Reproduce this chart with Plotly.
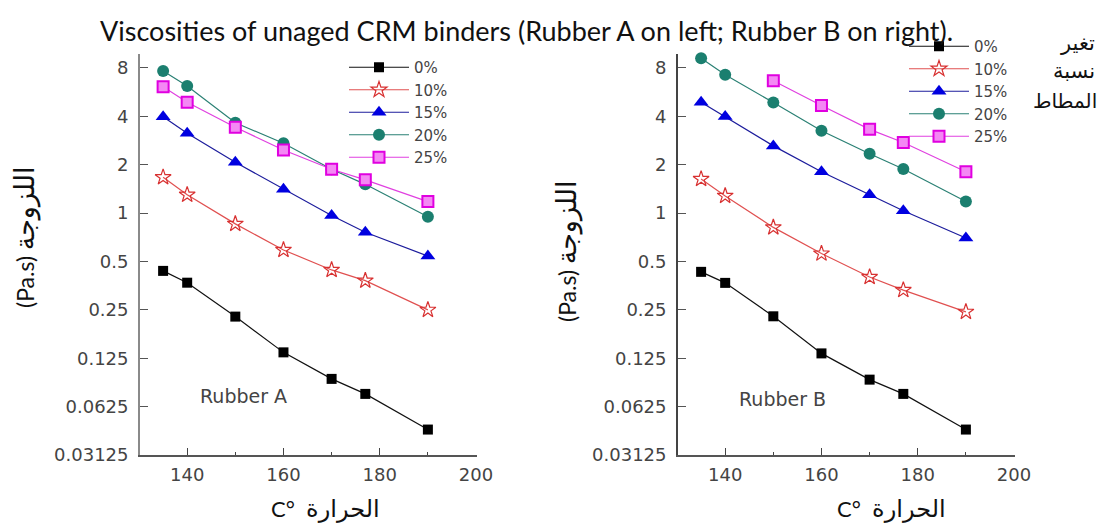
import plotly.graph_objects as go

# ---------------- data ----------------
temps = [135, 140, 150, 160, 170, 177, 190]
labels = ["0%", "10%", "15%", "20%", "25%"]

rubberA_0 = [0.437, 0.369, 0.227, 0.136, 0.093, 0.075, 0.045]
rubberA_10 = [1.67, 1.30, 0.857, 0.59, 0.443, 0.38, 0.25]
rubberA_15 = [3.98, 3.14, 2.07, 1.41, 0.966, 0.76, 0.54]
rubberA_20 = [7.66, 6.18, 3.65, 2.72, 1.875, 1.51, 0.95]
rubberA_25 = [6.12, 4.89, 3.42, 2.47, 1.875, 1.61, 1.18]

rubberB_0 = [0.431, 0.368, 0.228, 0.134, 0.092, 0.075, 0.045]
rubberB_10 = [1.63, 1.28, 0.815, 0.56, 0.40, 0.332, 0.243]
rubberB_15 = [4.90, 3.99, 2.62, 1.81, 1.30, 1.035, 0.70]
rubberB_20 = [9.21, 7.26, 4.88, 3.25, 2.34, 1.88, 1.18]
rubberB_25 = [None, None, 6.66, 4.67, 3.32, 2.75, 1.81]

y_tickvals = [0.03125, 0.0625, 0.125, 0.25, 0.5, 1, 2, 4, 8]
y_ticktext = ["0.03125", "0.0625", "0.125", "0.25", "0.5", "1", "2", "4", "8"]

# ---------------- styles ----------------
styles = [
    dict(line=dict(color="#111111", width=1.2),
         marker=dict(symbol="square", size=10, color="#000000")),
    dict(line=dict(color="#e05050", width=1.2),
         marker=dict(symbol="star-open", size=12, color="#d83030", line=dict(width=1.2))),
    dict(line=dict(color="#1c1c9c", width=1.2),
         marker=dict(symbol="triangle-up", size=13, color="#0000e0")),
    dict(line=dict(color="#2a8074", width=1.2),
         marker=dict(symbol="circle", size=12, color="#1b7f6f")),
    dict(line=dict(color="#e040e0", width=1.2),
         marker=dict(symbol="square", size=11, color="#f488f4",
                     line=dict(color="#e000e0", width=2))),
]

fig = go.Figure()

seriesA = [rubberA_0, rubberA_10, rubberA_15, rubberA_20, rubberA_25]
seriesB = [rubberB_0, rubberB_10, rubberB_15, rubberB_20, rubberB_25]

for lab, vals, st in zip(labels, seriesA, styles):
    fig.add_trace(go.Scatter(x=temps, y=vals, mode="lines+markers", name=lab,
                             xaxis="x", yaxis="y", legend="legend",
                             cliponaxis=False, **st))
for lab, vals, st in zip(labels, seriesB, styles):
    fig.add_trace(go.Scatter(x=temps, y=vals, mode="lines+markers", name=lab,
                             xaxis="x2", yaxis="y2", legend="legend2",
                             cliponaxis=False, connectgaps=False, **st))

W, H = 1117, 525
def px_x(p):
    return p / W
def px_y(p):
    return 1 - p / H

tick_font = dict(family="DejaVu Sans, Arial, sans-serif", size=18, color="#444444")

xcommon = dict(range=[130.2, 200.2], tick0=140, dtick=20, ticks="inside", ticklen=7,
               tickwidth=1.2, tickcolor="#444444", showline=True, linecolor="#555555",
               linewidth=1.5, showgrid=False, zeroline=False, tickfont=tick_font,
               minor=dict(dtick=10, tick0=140, ticks="inside", ticklen=3,
                          tickcolor="#444444", tickwidth=1.2, showgrid=False),
               ticklabelstandoff=3, automargin=False)
ycommon = dict(type="log", range=[-1.5051, 0.99], tickvals=y_tickvals,
               ticktext=y_ticktext, ticks="inside", ticklen=8, tickwidth=1.2,
               tickcolor="#555555", showline=True, linewidth=1.8,
               showgrid=False, zeroline=False, tickfont=tick_font,
               ticklabelstandoff=6, automargin=False)

ybot, ytop = px_y(455), px_y(54)

leg_font = dict(family="DejaVu Sans, Arial, sans-serif", size=15, color="#444444")

fig.update_layout(
    width=W, height=H,
    margin=dict(l=0, r=0, t=0, b=0),
    paper_bgcolor="white", plot_bgcolor="white",
    xaxis=dict(domain=[px_x(140), px_x(477)], anchor="y", **xcommon),
    yaxis=dict(domain=[ybot, ytop], anchor="x", linecolor="#8a8a8a", **ycommon),
    xaxis2=dict(domain=[px_x(678), px_x(1015)], anchor="y2", **xcommon),
    yaxis2=dict(domain=[ybot, ytop], anchor="x2", linecolor="#444444", **ycommon),
    legend=dict(x=px_x(344), y=px_y(51), xanchor="left", yanchor="top",
                bgcolor="rgba(0,0,0,0)", itemwidth=60, tracegroupgap=0,
                font=leg_font),
    legend2=dict(x=px_x(904), y=px_y(30), xanchor="left", yanchor="top",
                 bgcolor="rgba(0,0,0,0)", itemwidth=60, tracegroupgap=0,
                 font=leg_font),
    showlegend=True,
)

ar_family = "Lato, DejaVu Sans, sans-serif"
ann_font_ar = dict(family=ar_family, size=22, color="#111111")

ytitle = ('<span style="font-size:23px">(Pa.s)</span> '
          '<span style="font-size:27px">اللزوجة</span>')
xtitle = ('<span style="font-size:22px">C°</span>  '
          '<span style="font-size:24px">الحرارة</span>')

def pann(text, x, y, font, **kw):
    d = dict(text=text, x=px_x(x), y=px_y(y), xref="paper", yref="paper",
             showarrow=False, font=font, xanchor="center", yanchor="middle")
    d.update(kw)
    return d

annotations = [
    pann("Viscosities of unaged CRM binders (Rubber A on left; Rubber B on right).",
         526, 30, dict(family="Lato, Open Sans, sans-serif", size=27, color="#111111")),
    dict(text="Rubber A", x=151.7, y=-1.14, xref="x", yref="y", showarrow=False,
         xanchor="center", yanchor="middle",
         font=dict(family="DejaVu Sans, Arial, sans-serif", size=19, color="#444444")),
    dict(text="Rubber B", x=151.9, y=-1.155, xref="x2", yref="y2", showarrow=False,
         xanchor="center", yanchor="middle",
         font=dict(family="DejaVu Sans, Arial, sans-serif", size=19, color="#444444")),
    pann(ytitle, 24, 238, ann_font_ar, textangle=-90),
    pann(ytitle, 566, 252, ann_font_ar, textangle=-90),
    pann(xtitle, 325, 508, ann_font_ar),
    pann(xtitle, 891, 508, ann_font_ar),
    pann("تغير", 1097, 42, dict(family=ar_family, size=21, color="#111111"), xanchor="right"),
    pann("نسبة", 1097, 69, dict(family=ar_family, size=21, color="#111111"), xanchor="right"),
    pann("المطاط", 1099, 100, dict(family=ar_family, size=20, color="#111111"), xanchor="right"),
]
fig.update_layout(annotations=annotations)

fig.write_html("out.html")
